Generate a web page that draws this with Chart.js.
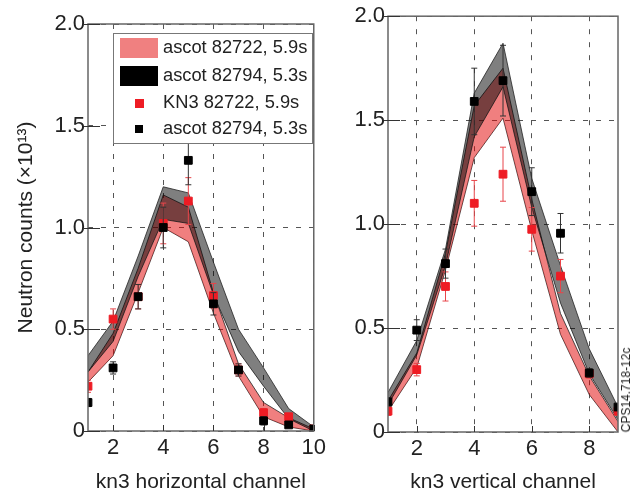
<!DOCTYPE html>
<html>
<head>
<meta charset="utf-8">
<script src="https://cdn.jsdelivr.net/npm/chart.js@4"></script>
<style>
  body { margin: 0; background: #fff; width: 637px; height: 495px; position: relative; overflow: hidden; }
  #c1 { position: absolute; left: 0; top: 0; }
  #c2 { position: absolute; left: 330px; top: 0; }
  #code {
    position: absolute; left: 626px; top: 390px;
    transform: translate(-50%, -50%) rotate(-90deg);
    font: 12px "Liberation Sans", Arial, sans-serif; color: #222; white-space: nowrap;
  }
</style>
</head>
<body>
<canvas id="c1" width="330" height="495"></canvas>
<canvas id="c2" width="307" height="495"></canvas>
<div id="code">CPS14.718-12c</div>
<script>
// labels
const legendLabels = ["ascot 82722, 5.9s", "ascot 82794, 5.3s", "KN3 82722, 5.9s", "ascot 82794, 5.3s"];
const yTicks = [0, 0.5, 1, 1.5, 2];

// horizontal camera (left)
const hChannels = [1, 2, 3, 4, 5, 6, 7, 8, 9, 10];
const hRedHi  = [0.29, 0.48, 0.80, 1.16, 1.10, 0.68, 0.33, 0.14, 0.065, 0.01];
const hRedLo  = [0.24, 0.37, 0.68, 1.00, 0.93, 0.58, 0.27, 0.07, 0.02, 0.0];
const hGrayHi = [0.37, 0.54, 0.86, 1.20, 1.17, 0.83, 0.50, 0.31, 0.11, 0.02];
const hGrayLo = [0.29, 0.44, 0.76, 1.04, 1.02, 0.67, 0.39, 0.22, 0.06, 0.0];
const hKn3     = [0.22, 0.55, 0.66, 1.02, 1.13, 0.665, 0.30, 0.09, 0.07, 0.01];
const hKn3Err  = [0.03, 0.05, 0.06, 0.10, 0.115, 0.06, 0.03, 0.02, 0.01, 0.01];
const hAscot    = [0.14, 0.31, 0.66, 1.00, 1.33, 0.625, 0.30, 0.05, 0.03, 0.01];
const hAscotErr = [0.02, 0.03, 0.06, 0.10, 0.12, 0.055, 0.03, 0.02, 0.01, 0.01];

// vertical camera (right)
const vChannels = [1, 2, 3, 4, 5, 6, 7, 8, 9];
const vRedHi  = [0.15, 0.38, 0.86, 1.57, 1.75, 1.12, 0.57, 0.27, 0.05];
const vRedLo  = [0.10, 0.31, 0.78, 1.32, 1.51, 0.97, 0.47, 0.18, 0.0];
const vGrayHi = [0.19, 0.44, 0.88, 1.63, 1.87, 1.22, 0.80, 0.40, 0.12];
const vGrayLo = [0.13, 0.37, 0.80, 1.42, 1.66, 1.08, 0.62, 0.28, 0.06];
const vKn3     = [0.10, 0.30, 0.70, 1.10, 1.24, 0.975, 0.75, 0.28, 0.10];
const vKn3Err  = [0.02, 0.03, 0.07, 0.11, 0.13, 0.105, 0.08, 0.02, 0.02];
const vAscot    = [0.145, 0.49, 0.81, 1.59, 1.69, 1.156, 0.956, 0.284, 0.12];
const vAscotErr = [0.02, 0.05, 0.07, 0.16, 0.17, 0.115, 0.095, 0.02, 0.01];

const FONT = '"Liberation Sans", Arial, sans-serif';
const RED = "#ee1c24";
const PINK = "rgba(225,0,0,0.5)";
const GREY = "rgba(0,0,0,0.5)";

const pts = (xs, ys) => xs.map((x, i) => ({ x: x, y: ys[i] }));

function band(xs, ys, color, fill, order) {
  return {
    data: pts(xs, ys), borderColor: "#222", borderWidth: 0.8,
    backgroundColor: color, fill: fill, pointRadius: 0, tension: 0, order: order,
  };
}

function makeDatasets(xs, redHi, redLo, grayHi, grayLo, kn3, kn3Err, ascot, ascotErr) {
  return [
    Object.assign(band(xs, redHi, PINK, "+1", 6), { label: legendLabels[0] }),
    band(xs, redLo, PINK, false, 6),
    Object.assign(band(xs, grayHi, GREY, "+1", 4), { label: legendLabels[1] }),
    band(xs, grayLo, GREY, false, 4),
    {
      label: legendLabels[2], data: pts(xs, kn3), showLine: false, order: 2,
      pointStyle: "rect", pointRadius: 5.5, backgroundColor: RED, borderColor: RED, borderWidth: 1,
      errors: kn3Err, errorColor: "#e8454a",
    },
    {
      label: legendLabels[3], data: pts(xs, ascot), showLine: false, order: 1,
      pointStyle: "rect", pointRadius: 5.5, backgroundColor: "#000", borderColor: "#000", borderWidth: 1,
      errors: ascotErr, errorColor: "#333",
    },
  ];
}

// error bars + frame + inner tick marks
const framePlugin = {
  id: "frame",
  beforeDatasetDraw(chart, args) {
    const ds = chart.data.datasets[args.index];
    if (!ds.errors) return;
    const ctx = chart.ctx, sx = chart.scales.x, sy = chart.scales.y, a = chart.chartArea;
    ctx.save();
    ctx.beginPath();
    ctx.rect(a.left, a.top, a.right - a.left, a.bottom - a.top);
    ctx.clip();
    ctx.strokeStyle = ds.errorColor;
    ctx.lineWidth = 1;
    ds.data.forEach((p, i) => {
      const x = sx.getPixelForValue(p.x);
      const y1 = sy.getPixelForValue(p.y + ds.errors[i]);
      const y2 = sy.getPixelForValue(p.y - ds.errors[i]);
      ctx.beginPath();
      ctx.moveTo(x, y1); ctx.lineTo(x, y2);
      ctx.moveTo(x - 3, y1); ctx.lineTo(x + 3, y1);
      ctx.moveTo(x - 3, y2); ctx.lineTo(x + 3, y2);
      ctx.stroke();
    });
    ctx.restore();
  },
  afterDraw(chart) {
    const ctx = chart.ctx, a = chart.chartArea, sx = chart.scales.x, sy = chart.scales.y;
    ctx.save();
    ctx.strokeStyle = "#666";
    ctx.lineWidth = 1.5;
    ctx.strokeRect(a.left, a.top, a.right - a.left, a.bottom - a.top);
    ctx.strokeStyle = "#333";
    ctx.lineWidth = 1;
    ctx.beginPath();
    yTicks.forEach((v) => {
      const y = Math.round(sy.getPixelForValue(v)) + 0.5;
      ctx.moveTo(a.left - 4, y); ctx.lineTo(a.left + 12, y);
    });
    sx.ticks.forEach((t) => {
      const x = Math.round(sx.getPixelForValue(t.value)) + 0.5;
      ctx.moveTo(x, a.bottom); ctx.lineTo(x, a.bottom - 6);
    });
    ctx.stroke();
    ctx.restore();
  },
};

// boxed legend in the left panel
const boxLegend = {
  id: "boxLegend",
  afterDraw(chart) {
    const ctx = chart.ctx;
    ctx.save();
    ctx.fillStyle = "#fff";
    ctx.fillRect(113, 33, 199, 110);
    ctx.strokeStyle = "#777";
    ctx.lineWidth = 1;
    ctx.strokeRect(113.5, 33.5, 199, 110);
    ctx.fillStyle = "#f08080";
    ctx.fillRect(120, 38, 38, 20);
    ctx.fillStyle = "#000";
    ctx.fillRect(120, 66, 38, 20);
    ctx.fillStyle = RED;
    ctx.fillRect(135, 99, 9, 9);
    ctx.fillStyle = "#000";
    ctx.fillRect(135, 125, 8, 8);
    ctx.fillStyle = "#222";
    ctx.font = "18.3px " + FONT;
    ctx.textBaseline = "middle";
    [48, 76, 103, 129].forEach((y, i) => ctx.fillText(legendLabels[i], 163, y));
    ctx.restore();
  },
};

function makeOptions(xMax, xTickVals, yWidth, xHeight, pad, yTitle, xTitle) {
  return {
    responsive: false,
    animation: false,
    layout: { padding: pad },
    plugins: { legend: { display: false }, tooltip: { enabled: false } },
    scales: {
      x: {
        type: "linear", min: 1, max: xMax,
        afterBuildTicks: (s) => { s.ticks = xTickVals.map((v) => ({ value: v })); },
        afterFit: (s) => { s.height = xHeight; },
        grid: { color: "#555", lineWidth: 1, drawTicks: false },
        border: { display: false, dash: [5, 8] },
        ticks: { padding: 4, color: "#222", font: { size: 22, family: FONT } },
        title: { display: true, text: xTitle, color: "#222", font: { size: 21, family: FONT }, padding: { top: 0, bottom: 0 } },
      },
      y: {
        min: 0, max: 2,
        afterBuildTicks: (s) => { s.ticks = yTicks.map((v) => ({ value: v })); },
        afterFit: (s) => { s.width = yWidth; },
        grid: { color: "#555", lineWidth: 1, drawTicks: false },
        border: { display: false, dash: [5, 8] },
        ticks: {
          padding: 3, color: "#222", font: { size: 22, family: FONT },
          callback: (v) => (v === 0 ? "0" : v.toFixed(1)),
        },
        title: { display: !!yTitle, text: yTitle, color: "#222", font: { size: 21, family: FONT }, padding: { top: 14, bottom: 0 } },
      },
    },
  };
}

document.addEventListener("DOMContentLoaded", () => {
  new Chart(document.getElementById("c1"), {
    type: "line",
    data: { datasets: makeDatasets(hChannels, hRedHi, hRedLo, hGrayHi, hGrayLo, hKn3, hKn3Err, hAscot, hAscotErr) },
    options: makeOptions(10, [2, 4, 6, 8, 10], 88, 64, { top: 24, right: 14, left: 0, bottom: 0 },
      "Neutron counts (×10¹³)", "kn3 horizontal channel"),
    plugins: [framePlugin, boxLegend],
  });

  new Chart(document.getElementById("c2"), {
    type: "line",
    data: { datasets: makeDatasets(vChannels, vRedHi, vRedLo, vGrayHi, vGrayLo, vKn3, vKn3Err, vAscot, vAscotErr) },
    options: makeOptions(9, [2, 4, 6, 8], 58, 63, { top: 15, right: 19, left: 0, bottom: 0 },
      "", "kn3 vertical channel"),
    plugins: [framePlugin],
  });
});
</script>
</body>
</html>
